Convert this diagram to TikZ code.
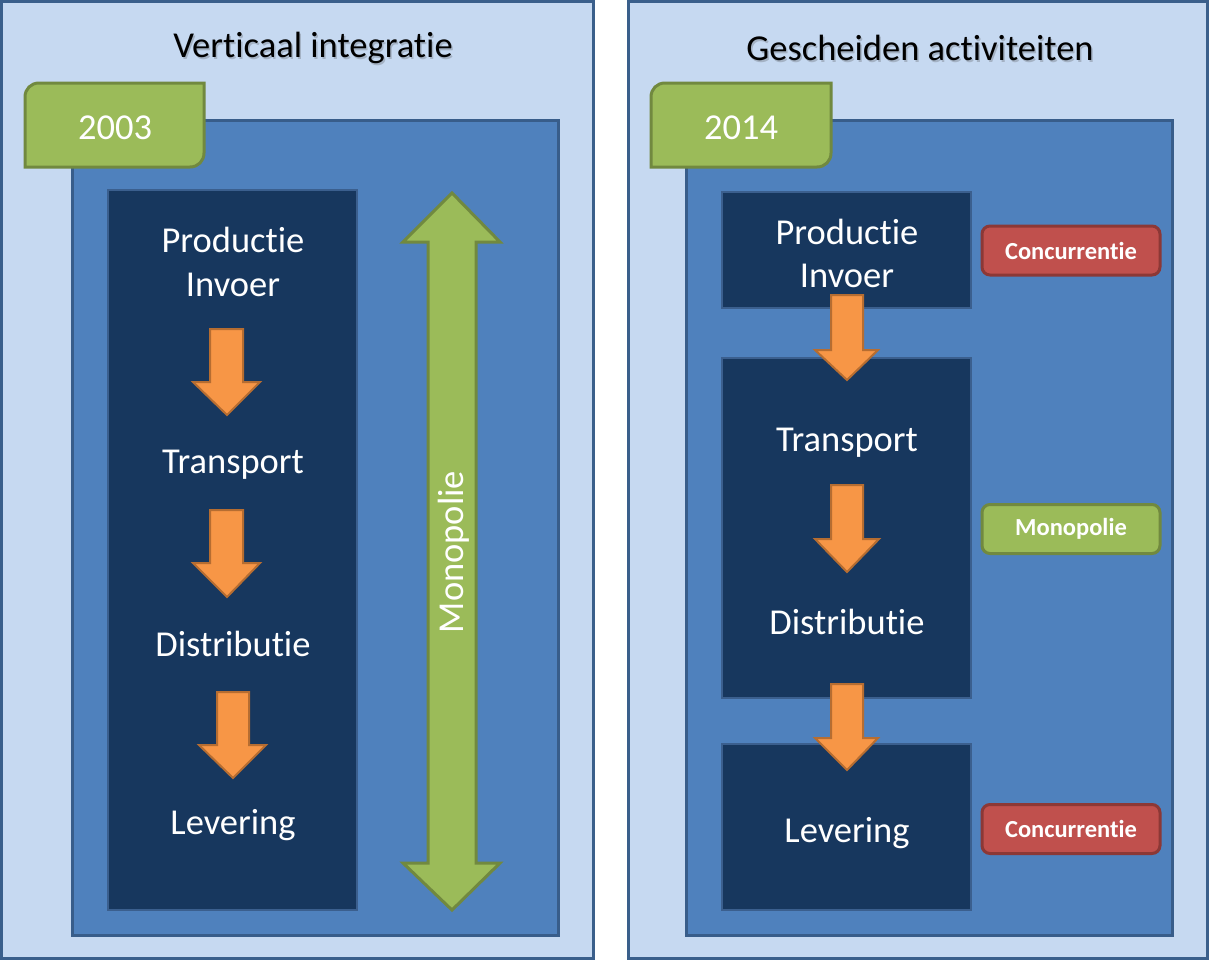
\documentclass[tikz,border=0pt]{standalone}
\usepackage{fontspec}
\setmainfont{Carlito}[Ligatures={NoCommon,NoContextual}]
\definecolor{panelfill}{HTML}{C6D9F1}
\definecolor{panelline}{HTML}{3A5F8B}
\definecolor{midfill}{HTML}{4F81BD}
\definecolor{midline}{HTML}{385D8A}
\definecolor{darkfill}{HTML}{17375E}
\definecolor{darkline}{HTML}{3B5F8E}
\definecolor{grfill}{HTML}{9BBB59}
\definecolor{grline}{HTML}{71893F}
\definecolor{orfill}{HTML}{F79646}
\definecolor{orline}{HTML}{B66D31}
\definecolor{rdfill}{HTML}{C0504D}
\definecolor{rdline}{HTML}{8C3836}
\definecolor{shadowgray}{HTML}{A4B2C4}
\begin{document}
\begin{tikzpicture}[x=1pt,y=-1pt,
  panel/.style={fill=panelfill,draw=panelline,line width=3pt},
  midbox/.style={fill=midfill,draw=midline,line width=3pt},
  darkbox/.style={fill=darkfill,draw=darkline,line width=2.5pt},
  tabshape/.style={fill=grfill,draw=grline,line width=3pt},
  oarrow/.style={fill=orfill,draw=orline,line width=2pt,line join=miter},
  garrow/.style={fill=grfill,draw=grline,line width=3pt,line join=miter},
  bigtxt/.style={text=white,font=\fontsize{36.5}{40}\selectfont,inner sep=0pt},
  titletxt/.style={text=black,font=\fontsize{36.5}{40}\selectfont,inner sep=0pt},
  tag/.style={rounded corners=8pt,line width=3pt,minimum width=178pt,minimum height=49pt,inner sep=0pt,text=white,font=\bfseries\fontsize{24.5}{28}\selectfont},
  redtag/.style={tag,fill=rdfill,draw=rdline},
  greentag/.style={tag,fill=grfill,draw=grline}
]
\useasboundingbox (0,0) rectangle (1209,961);
% panels
\path[panel] (1.5,1.5) rectangle (593.5,958);
\path[panel] (628.5,1.5) rectangle (1207.5,958);
% inner boxes
\path[midbox] (72,120) rectangle (558,935);
\path[midbox] (686,120) rectangle (1172,935);
% tabs
\path[tabshape] (25,167) -- (25,97) .. controls (25,89) and (31,83) .. (39,83) -- (204,83) -- (204,153) .. controls (204,161) and (198,167) .. (190,167) -- cycle;
\path[tabshape] (651,167) -- (651,97) .. controls (651,89) and (657,83) .. (665,83) -- (831,83) -- (831,153) .. controls (831,161) and (825,167) .. (817,167) -- cycle;
% dark boxes
\path[darkbox] (108,190) rectangle (357,910);
\path[darkbox] (722,192) rectangle (971,308);
\path[darkbox] (722,358) rectangle (971,698);
\path[darkbox] (722,744) rectangle (971,910);
% green double arrow
\path[garrow] (452,193) -- (500,242) -- (476,242) -- (476,863) -- (500,863) -- (452,910) -- (403,863) -- (428,863) -- (428,242) -- (403,242) -- cycle;
% orange arrows
\path[oarrow] (210,329) -- (243,329) -- (243,382) -- (260,382) -- (227,415) -- (193,382) -- (210,382) -- cycle;
\path[oarrow] (210,510) -- (243,510) -- (243,563) -- (260,563) -- (227,597) -- (193,563) -- (210,563) -- cycle;
\path[oarrow] (217,692) -- (249,692) -- (249,745) -- (266,745) -- (233,778) -- (199,745) -- (217,745) -- cycle;
\path[oarrow] (831,295) -- (863,295) -- (863,350) -- (878,350) -- (847,380) -- (815,350) -- (831,350) -- cycle;
\path[oarrow] (831,485) -- (863,485) -- (863,539) -- (879,539) -- (847,572) -- (815,539) -- (831,539) -- cycle;
\path[oarrow] (831,684) -- (863,684) -- (863,738) -- (878,738) -- (847,770) -- (815,738) -- (831,738) -- cycle;
% titles (with light shadow)
\node[titletxt,text=shadowgray] (t1s) at (314.5,49.5) {Verticaal integratie};
\node[titletxt,text=shadowgray] (t2s) at (921.5,49.5) {Gescheiden activiteiten};
\node[titletxt] (t1) at (313,48) {Verticaal integratie};
\node[titletxt] (t2) at (920,48) {Gescheiden activiteiten};
% years
\node[bigtxt] (y1) at (115,128) {2003};
\node[bigtxt] (y2) at (741,128) {2014};
% left texts
\node[bigtxt] (lp) at (233,240) {Productie};
\node[bigtxt] (li) at (233,285) {Invoer};
\node[bigtxt] (lt) at (233,465) {Transport};
\node[bigtxt] (ld) at (233,644) {Distributie};
\node[bigtxt] (ll) at (233,825) {Levering};
\node[bigtxt,rotate=90] (lm) at (454,552) {Monopolie};
% right texts
\node[bigtxt] (rp) at (847,232) {Productie};
\node[bigtxt] (ri) at (847,276) {Invoer};
\node[bigtxt] (rt) at (847,443) {Transport};
\node[bigtxt] (rd) at (847,622) {Distributie};
\node[bigtxt] (rl) at (847,833) {Levering};
% tags
\node[redtag] (c1) at (1071,250.5) {Concurrentie};
\node[greentag] (m1) at (1071,529) {Monopolie};
\node[redtag] (c2) at (1071,829) {Concurrentie};
\end{tikzpicture}
\end{document}
